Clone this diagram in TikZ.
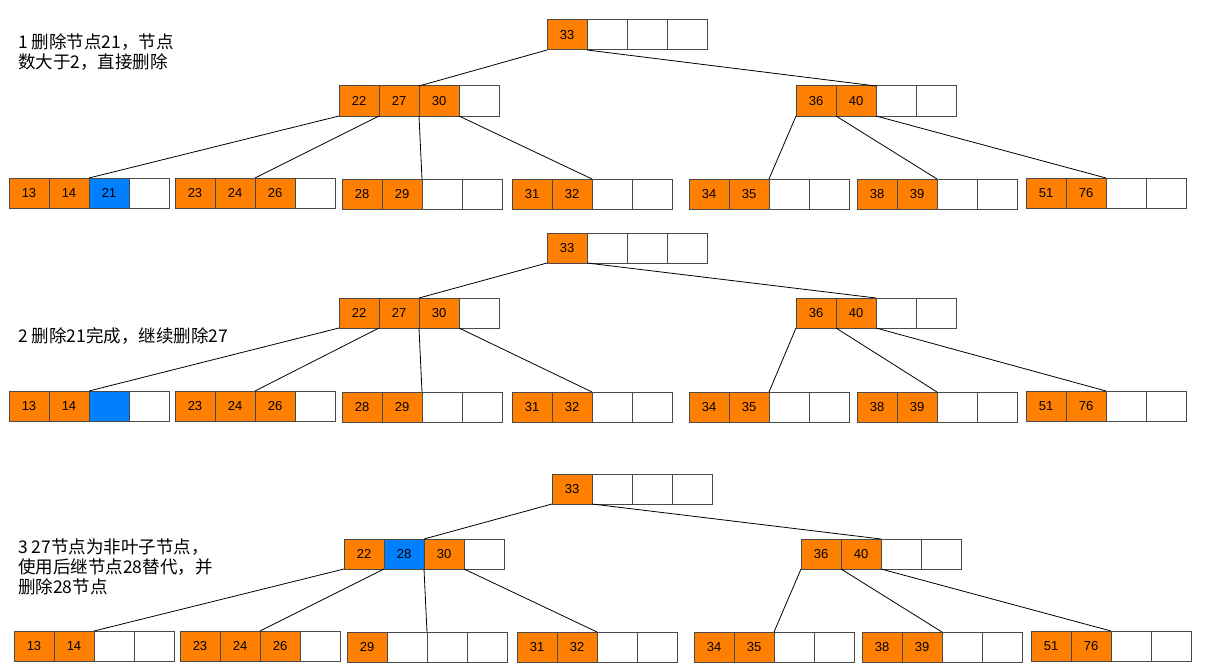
\documentclass[tikz,border=0pt]{standalone}
\usepackage{fontspec}
\setmainfont{Liberation Sans}
\newfontfamily\cjk{Noto Sans CJK SC}
\usetikzlibrary{positioning}
\definecolor{keyorange}{HTML}{FF8000}
\definecolor{keyblue}{HTML}{007FFF}
\definecolor{cellline}{HTML}{4A4A4A}

% one B-tree node: name, left x, top y, list of fill/key
\newcommand{\bnode}[4]{%
    \foreach \cfill/\ctext [count=\i] in {#4} {
        \node [cell, fill=\cfill] (#1-\i) at ({#2+20+(\i-1)*40},{#3+15}) {\ctext};
    }
}

\begin{document}
\begin{tikzpicture}[
    x=1pt, y=-1pt,
    cell/.style={
        rectangle,
        draw=cellline,
        line width=1pt,
        minimum width=40pt,
        minimum height=30pt,
        inner sep=0pt,
        outer sep=0pt,
        font=\fontsize{13}{15}\selectfont,
        },
    note/.style={
        anchor=west,
        align=left,
        inner sep=0pt,
        font=\cjk\fontsize{17.5}{20}\selectfont,
        },
    link/.style={
        line width=.8pt,
        },
    ]

    \useasboundingbox (0,0) rectangle (1208,669);

    % step 1
    \node [note] (note1) at (18,52) {1 删除节点21，节点\\数大于2，直接删除};

    \bnode{root1}{547}{20}{keyorange/33,white/,white/,white/}
    \bnode{left1}{339}{86}{keyorange/22,keyorange/27,keyorange/30,white/}
    \bnode{right1}{796}{86}{keyorange/36,keyorange/40,white/,white/}
    \bnode{leaf1a}{9}{178}{keyorange/13,keyorange/14,keyblue/21,white/}
    \bnode{leaf1b}{175}{178}{keyorange/23,keyorange/24,keyorange/26,white/}
    \bnode{leaf1c}{342}{179}{keyorange/28,keyorange/29,white/,white/}
    \bnode{leaf1d}{512}{179}{keyorange/31,keyorange/32,white/,white/}
    \bnode{leaf1e}{689}{179}{keyorange/34,keyorange/35,white/,white/}
    \bnode{leaf1f}{857}{179}{keyorange/38,keyorange/39,white/,white/}
    \bnode{leaf1g}{1026}{178}{keyorange/51,keyorange/76,white/,white/}

    \draw [link] (root1-1.south west) -- (left1-3.north west);
    \draw [link] (root1-1.south east) -- (right1-3.north west);
    \draw [link] (left1-1.south west) -- (leaf1a-3.north west);
    \draw [link] (left1-2.south west) -- (leaf1b-3.north west);
    \draw [link] (left1-3.south west) -- (leaf1c-3.north west);
    \draw [link] (left1-4.south west) -- (leaf1d-3.north west);
    \draw [link] (right1-1.south west) -- (leaf1e-3.north west);
    \draw [link] (right1-2.south west) -- (leaf1f-3.north west);
    \draw [link] (right1-3.south west) -- (leaf1g-3.north west);

    % step 2
    \node [note] (note2) at (18,336) {2 删除21完成，继续删除27};

    \bnode{root2}{547}{233}{keyorange/33,white/,white/,white/}
    \bnode{left2}{339}{298}{keyorange/22,keyorange/27,keyorange/30,white/}
    \bnode{right2}{796}{298}{keyorange/36,keyorange/40,white/,white/}
    \bnode{leaf2a}{9}{391}{keyorange/13,keyorange/14,keyblue/,white/}
    \bnode{leaf2b}{175}{391}{keyorange/23,keyorange/24,keyorange/26,white/}
    \bnode{leaf2c}{342}{392}{keyorange/28,keyorange/29,white/,white/}
    \bnode{leaf2d}{512}{392}{keyorange/31,keyorange/32,white/,white/}
    \bnode{leaf2e}{689}{392}{keyorange/34,keyorange/35,white/,white/}
    \bnode{leaf2f}{857}{392}{keyorange/38,keyorange/39,white/,white/}
    \bnode{leaf2g}{1026}{391}{keyorange/51,keyorange/76,white/,white/}

    \draw [link] (root2-1.south west) -- (left2-3.north west);
    \draw [link] (root2-1.south east) -- (right2-3.north west);
    \draw [link] (left2-1.south west) -- (leaf2a-3.north west);
    \draw [link] (left2-2.south west) -- (leaf2b-3.north west);
    \draw [link] (left2-3.south west) -- (leaf2c-3.north west);
    \draw [link] (left2-4.south west) -- (leaf2d-3.north west);
    \draw [link] (right2-1.south west) -- (leaf2e-3.north west);
    \draw [link] (right2-2.south west) -- (leaf2f-3.north west);
    \draw [link] (right2-3.south west) -- (leaf2g-3.north west);

    % step 3
    \node [note] (note3) at (18,567) {3 27节点为非叶子节点，\\使用后继节点28替代，并\\删除28节点};

    \bnode{root3}{552}{474}{keyorange/33,white/,white/,white/}
    \bnode{left3}{344}{539}{keyorange/22,keyblue/28,keyorange/30,white/}
    \bnode{right3}{801}{539}{keyorange/36,keyorange/40,white/,white/}
    \bnode{leaf3a}{14}{631}{keyorange/13,keyorange/14,white/,white/}
    \bnode{leaf3b}{180}{631}{keyorange/23,keyorange/24,keyorange/26,white/}
    \bnode{leaf3c}{347}{632}{keyorange/29,white/,white/,white/}
    \bnode{leaf3d}{517}{632}{keyorange/31,keyorange/32,white/,white/}
    \bnode{leaf3e}{694}{632}{keyorange/34,keyorange/35,white/,white/}
    \bnode{leaf3f}{862}{632}{keyorange/38,keyorange/39,white/,white/}
    \bnode{leaf3g}{1031}{631}{keyorange/51,keyorange/76,white/,white/}

    \draw [link] (root3-1.south west) -- (left3-3.north west);
    \draw [link] (root3-1.south east) -- (right3-3.north west);
    \draw [link] (left3-1.south west) -- (leaf3a-3.north west);
    \draw [link] (left3-2.south west) -- (leaf3b-3.north west);
    \draw [link] (left3-3.south west) -- (leaf3c-3.north west);
    \draw [link] (left3-4.south west) -- (leaf3d-3.north west);
    \draw [link] (right3-1.south west) -- (leaf3e-3.north west);
    \draw [link] (right3-2.south west) -- (leaf3f-3.north west);
    \draw [link] (right3-3.south west) -- (leaf3g-3.north west);

\end{tikzpicture}
\end{document}
